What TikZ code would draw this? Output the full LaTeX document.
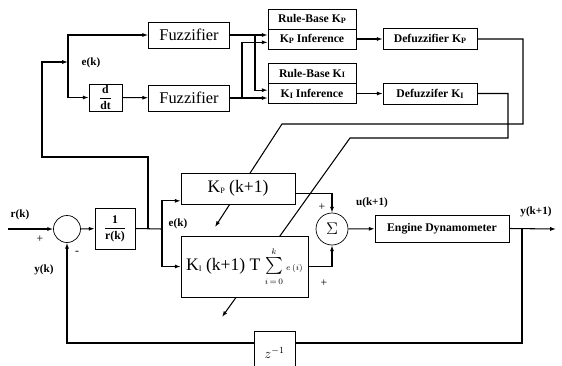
\documentclass[tikz,border=0pt]{standalone}
\usepackage{amsmath}
\usepackage{fontspec}
\setmainfont{Liberation Serif}
\usetikzlibrary{arrows.meta, backgrounds}

\newcommand{\lowidx}[1]{\raisebox{-0.15ex}{\scriptsize #1}}

\begin{document}
\begin{tikzpicture}[x=0.03cm, y=-0.03cm,
    blk/.style={draw=black, semithick, fill=white, inner sep=1pt, font=\fontsize{10}{12}\selectfont\bfseries},
    fuz/.style={draw=black, semithick, fill=white, minimum width=2.43cm, minimum height=0.78cm, font=\fontsize{14}{16}\selectfont},
    rule/.style={blk, minimum width=2.64cm, minimum height=0.6cm},
    defz/.style={blk, minimum width=2.82cm, minimum height=0.63cm},
    gain/.style={draw=black, semithick, fill=white, font=\fontsize{15}{17}\selectfont},
    junc/.style={circle, draw=black, semithick, fill=white, inner sep=0pt},
    lbl/.style={font=\fontsize{9.5}{10}\selectfont\bfseries, inner sep=0pt},
    sgn/.style={font=\fontsize{10}{10}\selectfont, inner sep=0pt},
    sig_line/.style={line width=0.9pt, draw=black},
    arr/.style={sig_line, -{Latex[length=5pt,width=3.5pt]}}
]
    \useasboundingbox (0,0) rectangle (562,365);

    % Fuzzy tuning part
    \node (fz1) [fuz] at (189,35) {Fuzzifier};
    \node (ddt) [blk, minimum width=0.99cm, minimum height=0.81cm] at (105.5,97.5) {$\dfrac{\text{d}}{\text{dt}}$};
    \node (fz2) [fuz] at (189,98) {Fuzzifier};
    \node (rbp) [rule] at (312,19) {Rule-Base K\lowidx{P}};
    \node (kpi) [rule] at (312,39) {K\lowidx{P} Inference};
    \node (rbi) [rule] at (312,73.5) {Rule-Base K\lowidx{I}};
    \node (kii) [rule] at (312,93.5) {K\lowidx{I} Inference};
    \node (dkp) [defz] at (430,39) {Defuzzifier K\lowidx{P}};
    \node (dki) [defz] at (430,93.5) {Defuzzifer K\lowidx{I}};

    % PI loop
    \node (sum) [junc, minimum size=0.81cm] at (67,229) {};
    \node (inv) [blk, minimum width=1.2cm, minimum height=1.23cm] at (115,228.5) {$\dfrac{\text{1}}{\text{r(k)}}$};
    \node (kp) [gain, minimum width=3.42cm, minimum height=0.93cm] at (238,188.5) {K\lowidx{P} (k+1)};
    \node (ki) [gain, minimum width=3.81cm, minimum height=1.83cm] at (244.5,266.5) {K\lowidx{I} (k+1) T $\sum\limits_{\scriptscriptstyle i\,=\,0}^{\scriptscriptstyle k}$\,{\scriptsize$e\,(i)$}};
    \node (sig) [junc, minimum size=0.96cm, font=\Large] at (332,229) {$\Sigma$};
    \node (eng) [blk, minimum width=4.02cm, minimum height=0.81cm] at (442,228.5) {Engine Dynamometer};
    \node (zinv) [gain, minimum width=1.23cm, minimum height=1.32cm, font=\large] at (274.5,353) {$z^{-1}$};

    \coordinate (rin) at (8,229);
    \coordinate (fb) at (148,229);
    \coordinate (fbl) at (42,157);
    \coordinate (ebus) at (68,62);
    \coordinate (ej) at (162,229);
    \coordinate (s1) at (255,35);
    \coordinate (s2) at (242,98);
    \coordinate (yb) at (522,229);
    \coordinate (yout) at (556,229);
    \coordinate (kpr) at (523,124);
    \coordinate (kpl) at (282,124);
    \coordinate (kpend) at (215,227);
    \coordinate (kir) at (508,138);
    \coordinate (kil) at (350,138);
    \coordinate (kiend) at (222,317);

    % Error into the fuzzy part
    \draw[arr] (fb) |- (fbl) |- (ebus);
    \draw[arr] (ebus) |- (fz1.west);
    \draw[arr] (ebus) |- (ddt.west);
    \draw[arr] (ddt) -- (fz2);
    \draw[arr] (fz1.east) -- (kpi.west |- fz1.east);
    \draw[arr] (s1) |- ([yshift=0.1cm]kii.west);
    \draw[arr] (fz2.east) -- (kii.west |- fz2.east);
    \draw[arr] (s2) |- ([yshift=-0.1cm]kpi.west);
    \draw[arr] (kpi) -- (dkp);
    \draw[arr] (kii) -- (dki);

    % Gain updates
    \begin{scope}[on background layer]
        \draw[arr] (dkp.east) -| (kpr) -- (kpl) -- (kpend);
        \draw[arr] (dki.east) -| (kir) -- (kil) -- (kiend);
    \end{scope}

    % Main loop
    \draw[arr] (rin) -- (sum);
    \draw[arr] (sum) -- (inv);
    \draw[sig_line] (inv.east) -- (ej);
    \draw[arr] (ej) |- ([yshift=-0.37cm]kp.west);
    \draw[arr] (ej) |- (ki.west);
    \draw[arr] ([yshift=-0.14cm]kp.east) -| (sig.north);
    \draw[arr] (ki.east) -| (sig.south);
    \draw[arr] (sig) -- (eng);
    \draw[arr] (eng.east) -- (yout);
    \draw[sig_line] (yb) |- ([yshift=0.3cm]zinv.east);
    \draw[arr] ([yshift=0.3cm]zinv.west) -| (sum.south);

    % Labels
    \node (rk_lbl) [lbl] at (20,215) {r(k)};
    \node (rk_plus) [sgn] at (40,239) {+};
    \node (yk_minus) [sgn] at (77,253) {-};
    \node (yk_lbl) [lbl] at (44,270) {y(k)};
    \node (ek_top) [lbl] at (91,63) {e(k)};
    \node (ek_mid) [lbl] at (178,224) {e(k)};
    \node (uk_lbl) [lbl] at (372,203) {u(k+1)};
    \node (kp_plus) [sgn] at (322,207) {+};
    \node (ki_plus) [sgn] at (324,283) {+};
    \node (yk1_lbl) [lbl] at (536,212) {y(k+1)};
\end{tikzpicture}
\end{document}
